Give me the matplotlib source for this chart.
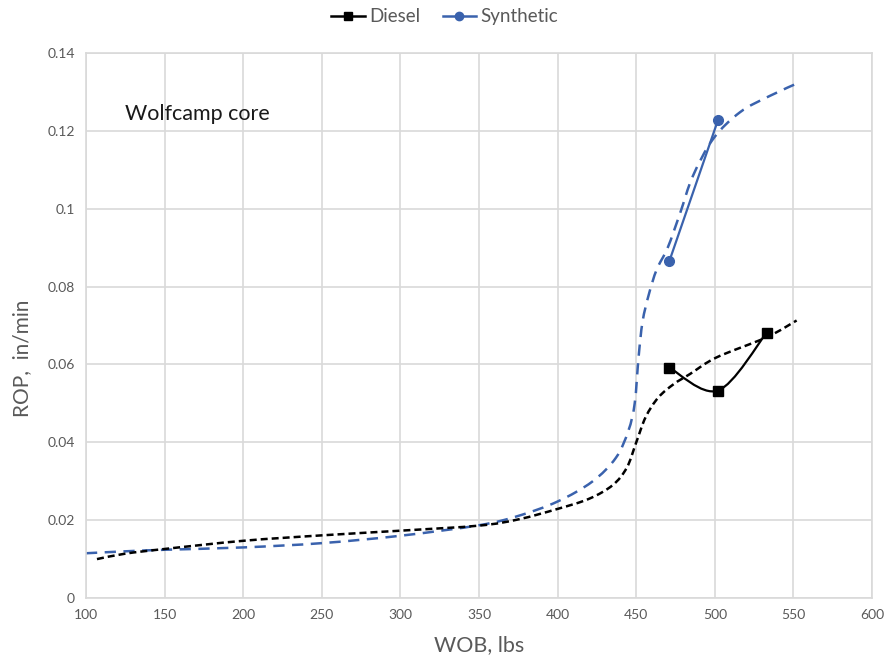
import numpy as np
import matplotlib.pyplot as plt
from matplotlib.path import Path
from matplotlib.patches import PathPatch
from matplotlib.lines import Line2D

plt.rcParams['font.family'] = ['Lato', 'DejaVu Sans']

# Dados medidos
wob_diesel = [471, 502, 533]
rop_diesel = [0.0592, 0.0533, 0.0682]
wob_synth = [471, 502]
rop_synth = [0.0865, 0.1228]

# Curvas de tendencia (tracejadas)
trend_synth_x = [100, 125, 150, 200, 250, 300, 350, 375, 400, 422, 437, 445,
                 449, 451.5, 454, 458, 463, 470, 478, 486, 499, 516, 535, 554]
trend_synth_y = [0.0115, 0.0120, 0.0124, 0.0130, 0.0141, 0.0160, 0.0187, 0.0211,
                 0.0248, 0.0299, 0.0360, 0.0430, 0.0500, 0.0620, 0.0710,
                 0.0780, 0.0844, 0.0900, 0.0990, 0.1084, 0.1180, 0.1248, 0.1290, 0.1325]
trend_diesel_x = [107, 125, 150, 200, 250, 300, 350, 375, 400, 420, 435, 444,
                  450, 456, 464, 474, 484, 501, 533, 552]
trend_diesel_y = [0.0100, 0.0114, 0.0126, 0.0147, 0.0161, 0.0173, 0.0186, 0.0202,
                  0.0229, 0.0255, 0.0290, 0.0335, 0.0400, 0.0465, 0.0515, 0.0550,
                  0.0575, 0.0618, 0.0670, 0.0713]

blue = '#3A62AD'
gray_txt = '#595959'
grid_c = '#D9D9D9'


def linha_suave(ax, x, y, **kw):
    # Suavizacao tipo Excel: Bezier cubica com pontos de controle Catmull-Rom
    pts = np.column_stack([x, y]).astype(float)
    ext = np.vstack([pts[0], pts, pts[-1]])
    verts = [tuple(pts[0])]
    codes = [Path.MOVETO]
    for i in range(1, len(ext) - 2):
        p0, p1, p2, p3 = ext[i - 1], ext[i], ext[i + 1], ext[i + 2]
        verts += [tuple(p1 + (p2 - p0) / 6), tuple(p2 - (p3 - p1) / 6), tuple(p2)]
        codes += [Path.CURVE4] * 3
    ax.add_patch(PathPatch(Path(verts, codes), fill=False, **kw))


fig = plt.figure(figsize=(8.89, 6.63), dpi=100)
ax = fig.add_axes([0.0967, 0.098, 0.8843, 0.822])

linha_suave(ax, trend_synth_x, trend_synth_y, edgecolor=blue, lw=1.8,
            ls=(0, (4.5, 3)), capstyle='butt')
linha_suave(ax, trend_diesel_x, trend_diesel_y, edgecolor='black', lw=1.8,
            ls=(0, (2.8, 1.6)), capstyle='butt')

linha_suave(ax, wob_diesel, rop_diesel, edgecolor='black', lw=1.6)
ax.plot(wob_diesel, rop_diesel, ls='none', marker='s', ms=7, color='black')

ax.plot(wob_synth, rop_synth, color=blue, lw=1.6, marker='o', ms=7)

ax.set_xlim(100, 600)
ax.set_ylim(0, 0.14)
ax.set_xticks(np.arange(100, 601, 50))
ax.set_yticks(np.arange(0, 0.141, 0.02))
ax.set_yticklabels(['0', '0.02', '0.04', '0.06', '0.08', '0.1', '0.12', '0.14'])
ax.grid(True, color=grid_c, lw=1.2)
ax.set_axisbelow(True)
for s in ax.spines.values():
    s.set_color(grid_c)
    s.set_linewidth(1.2)
ax.tick_params(length=0, labelsize=10, colors=gray_txt, pad=8)

ax.set_xlabel('WOB, lbs', fontsize=15.5, color=gray_txt, labelpad=10)
ax.set_ylabel('ROP,  in/min', fontsize=15, color=gray_txt, labelpad=10)
ax.yaxis.set_label_coords(-0.068, 0.44)

ax.text(125, 0.1243, 'Wolfcamp core', fontsize=15.5, color='#1a1a1a', va='center')

handles = [Line2D([], [], color='black', marker='s', ms=6, lw=1.8),
           Line2D([], [], color=blue, marker='o', ms=6, lw=1.8)]
fig.legend(handles, ['Diesel', 'Synthetic'], loc='center', bbox_to_anchor=(0.5, 0.975),
           ncol=2, frameon=False, fontsize=13.5, labelcolor=gray_txt,
           handlelength=1.8, columnspacing=1.2, handletextpad=0.2)

fig.savefig('out.png', dpi=100)
